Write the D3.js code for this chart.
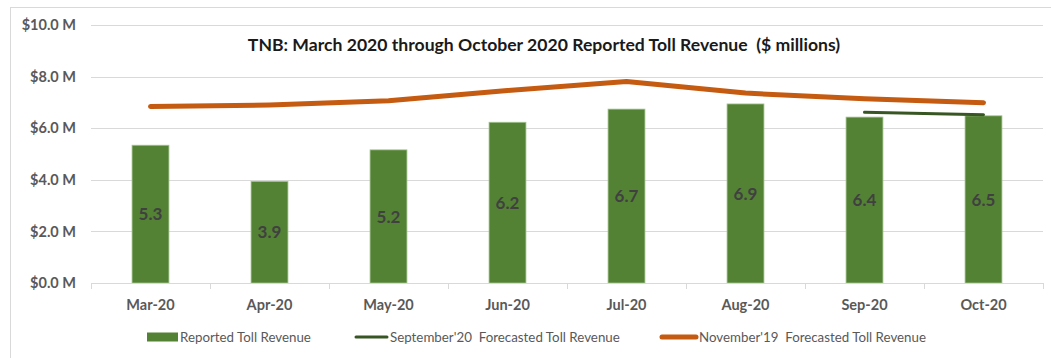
<!DOCTYPE html>
<html>
<head>
<meta charset="utf-8">
<script src="https://cdn.jsdelivr.net/npm/d3@7/dist/d3.min.js"></script>
<style>
  html, body { margin: 0; padding: 0; background: #fff; }
  svg { display: block; font-family: Lato, "Open Sans", "Liberation Sans", sans-serif; }
  svg text { white-space: pre; }
</style>
</head>
<body>
<svg id="chart" width="1051" height="358"></svg>
<script>
// Monthly toll revenue, $ millions
const months = ["Mar-20", "Apr-20", "May-20", "Jun-20", "Jul-20", "Aug-20", "Sep-20", "Oct-20"];
const reported = [5.34, 3.94, 5.16, 6.23, 6.74, 6.94, 6.43, 6.48];
const forecastSep20 = [null, null, null, null, null, null, 6.62, 6.52];
const forecastNov19 = [6.84, 6.9, 7.06, 7.46, 7.81, 7.36, 7.14, 6.99];
const yTicks = [0, 2, 4, 6, 8, 10];

const titleText = "TNB: March 2020 through October 2020 Reported Toll Revenue  ($ millions)";
const legendItems = [
  { label: "Reported Toll Revenue", kind: "bar" },
  { label: "September'20  Forecasted Toll Revenue", kind: "sep" },
  { label: "November'19  Forecasted Toll Revenue", kind: "nov" }
];

const colors = { bar: "#548235", sep: "#375623", nov: "#c55a11", grid: "#d9d9d9", axisText: "#595959" };

const svg = d3.select("#chart");

// Shrink or grow a text element's font so it spans the given width
function fitWidth(sel, baseSize, width, maxScale) {
  sel.style("font-size", baseSize + "px");
  const w = sel.node().getComputedTextLength();
  const k = Math.min(maxScale, width / w);
  sel.style("font-size", (baseSize * k).toFixed(2) + "px");
}

// Chart frame (only top and left edges fall inside the view)
svg.append("rect")
  .attr("x", 10.5).attr("y", 7.5).attr("width", 1100).attr("height", 400)
  .attr("fill", "none").attr("stroke", colors.grid).attr("stroke-width", 1);

const plot = { left: 91, right: 1043, top: 25, bottom: 283 };

const x = d3.scaleBand().domain(months).range([plot.left, plot.right]).paddingInner(0.69).paddingOuter(0.345);
const xc = d3.scaleBand().domain(months).range([plot.left, plot.right]); // full category slots
const y = d3.scaleLinear().domain([0, 10]).range([plot.bottom, plot.top]);

// Gridlines
svg.append("g").selectAll("line").data(yTicks.filter(d => d > 0)).join("line")
  .attr("x1", plot.left).attr("x2", plot.right)
  .attr("y1", d => Math.round(y(d)) + 0.5).attr("y2", d => Math.round(y(d)) + 0.5)
  .attr("stroke", colors.grid).attr("stroke-width", 1);

// Y axis labels
const yAxis = svg.append("g").attr("transform", "translate(76,0)")
  .call(d3.axisLeft(y).tickValues(yTicks).tickSize(0).tickPadding(0).tickFormat(d => "$" + d.toFixed(1) + " M"));
yAxis.select(".domain").remove();
yAxis.selectAll("text")
  .attr("fill", colors.axisText).style("font-size", "14.5px").style("font-weight", "bold")
  .style("font-family", "Lato, 'Open Sans', sans-serif");

// Title
const title = svg.append("text")
  .attr("x", 544).attr("y", 51)
  .attr("text-anchor", "middle")
  .attr("fill", "#1a1a1a")
  .style("font-weight", "bold")
  .text(titleText);
fitWidth(title, 16, 596, 1.1);

// Bars
svg.append("g").selectAll("rect").data(months).join("rect")
  .attr("x", d => x(d))
  .attr("width", x.bandwidth())
  .attr("y", (d, i) => y(reported[i]))
  .attr("height", (d, i) => y(0) - y(reported[i]))
  .attr("fill", colors.bar)
  .attr("stroke", "#a3c48f").attr("stroke-width", 0.8);

// Bar value labels
svg.append("g").selectAll("text").data(months).join("text")
  .attr("x", d => x(d) + x.bandwidth() / 2)
  .attr("y", (d, i) => (y(reported[i]) + y(0)) / 2)
  .attr("dy", "0.36em")
  .attr("text-anchor", "middle")
  .attr("fill", "#404040")
  .style("font-size", "17px").style("font-weight", "bold")
  .text((d, i) => d3.format(".1f")(reported[i]));

// X axis
const xAxisG = svg.append("g");
xAxisG.append("line")
  .attr("x1", plot.left).attr("x2", plot.right)
  .attr("y1", plot.bottom + 0.5).attr("y2", plot.bottom + 0.5)
  .attr("stroke", colors.grid);
const tickPos = months.map(m => xc(m)).concat([plot.right]);
xAxisG.selectAll("line.tick").data(tickPos).join("line").attr("class", "tick")
  .attr("x1", d => Math.round(d) + 0.5).attr("x2", d => Math.round(d) + 0.5)
  .attr("y1", plot.bottom).attr("y2", plot.bottom + 6)
  .attr("stroke", colors.grid);
xAxisG.selectAll("text").data(months).join("text")
  .attr("x", d => xc(d) + xc.bandwidth() / 2)
  .attr("y", 310)
  .attr("text-anchor", "middle")
  .attr("fill", colors.axisText)
  .style("font-size", "14.5px").style("font-weight", "bold")
  .text(d => d);

// Forecast lines
const line = d3.line()
  .defined(d => d.v != null)
  .x(d => xc(d.m) + xc.bandwidth() / 2)
  .y(d => y(d.v));

svg.append("path")
  .datum(months.map((m, i) => ({ m, v: forecastNov19[i] })))
  .attr("d", line)
  .attr("fill", "none").attr("stroke", colors.nov).attr("stroke-width", 5)
  .attr("stroke-linecap", "round").attr("stroke-linejoin", "round");

svg.append("path")
  .datum(months.map((m, i) => ({ m, v: forecastSep20[i] })))
  .attr("d", line)
  .attr("fill", "none").attr("stroke", colors.sep).attr("stroke-width", 3)
  .attr("stroke-linecap", "round").attr("stroke-linejoin", "round");

// Legend
const legendX = [147, 355, 661];
const swatchW = [31, 33, 36];
const legendTextW = [131, 230, 227];
const lg = svg.append("g");
legendItems.forEach((item, i) => {
  const g = lg.append("g").attr("transform", `translate(${legendX[i]},337)`);
  if (item.kind === "bar") {
    g.append("rect").attr("x", 0).attr("y", -4.5).attr("width", swatchW[i]).attr("height", 9).attr("fill", colors.bar);
  } else {
    g.append("line").attr("x1", 1).attr("x2", swatchW[i] - 1).attr("y1", 0).attr("y2", 0)
      .attr("stroke", colors[item.kind]).attr("stroke-width", item.kind === "nov" ? 5 : 3)
      .attr("stroke-linecap", "round");
  }
  const t = g.append("text")
    .attr("x", swatchW[i] + 2).attr("y", 0).attr("dy", "0.35em")
    .attr("fill", colors.axisText)
    .text(item.label);
  fitWidth(t, 12.5, legendTextW[i], 1.2);
});
</script>
</body>
</html>
